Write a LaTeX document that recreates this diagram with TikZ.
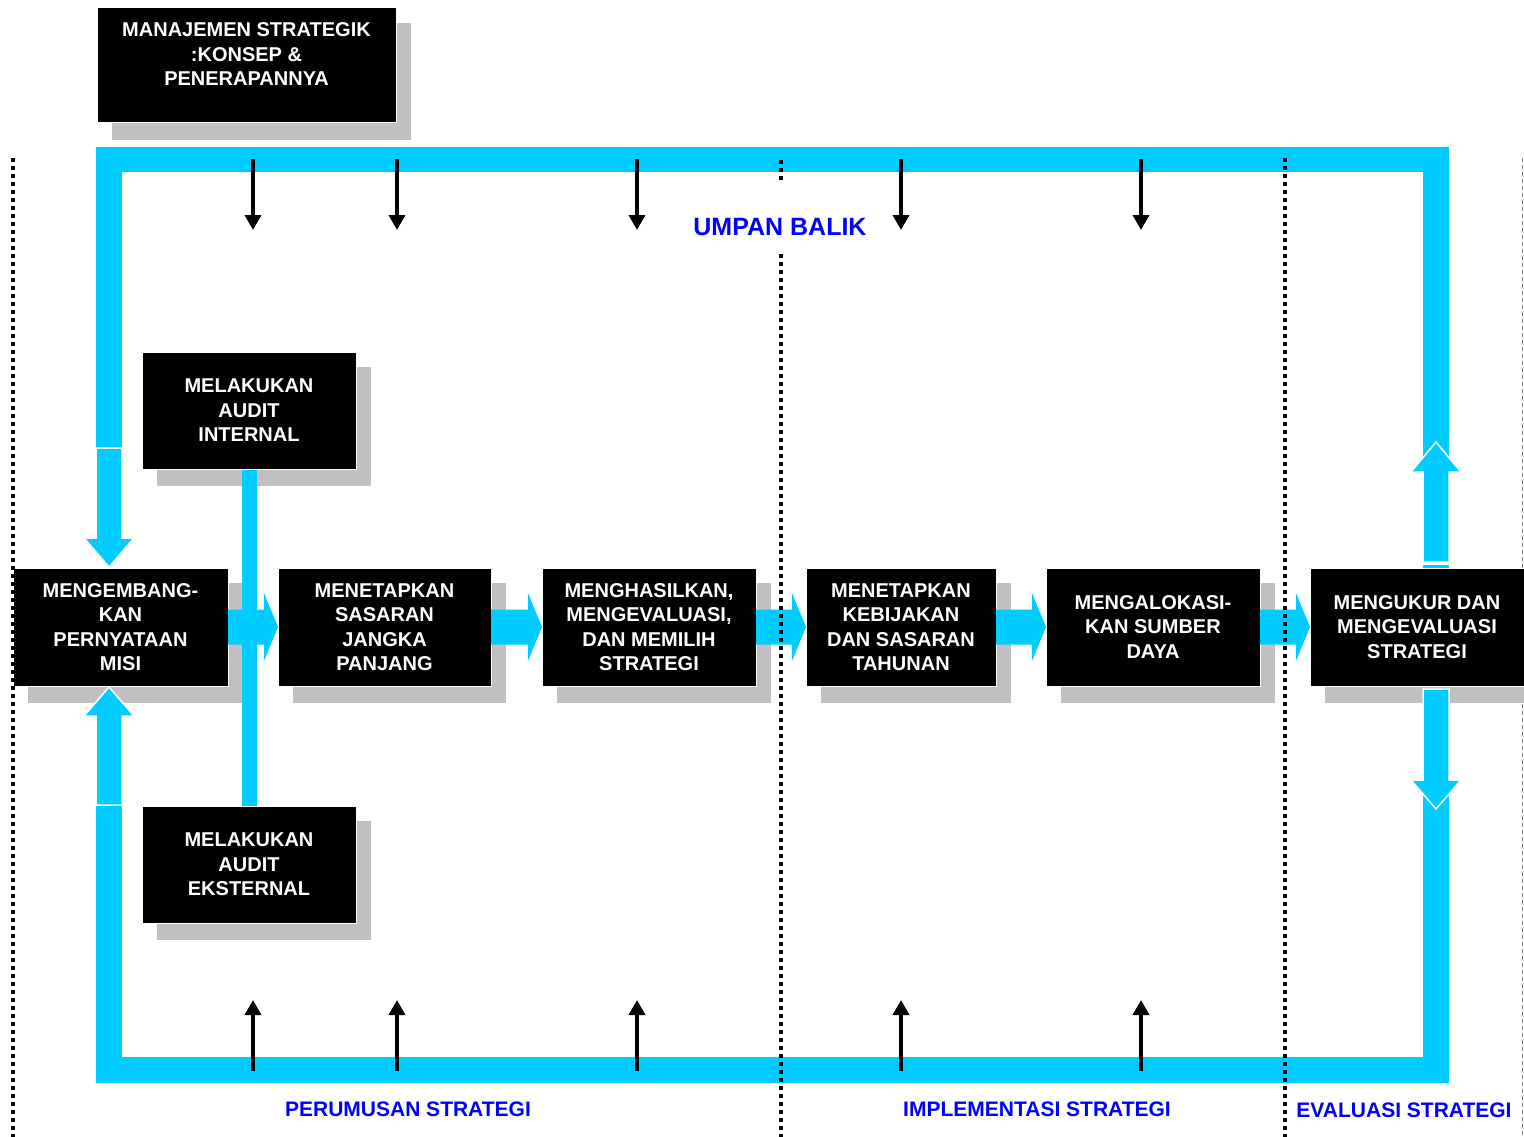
\documentclass[tikz,border=0pt]{standalone}
\usepackage{fontspec}
\setmainfont{Liberation Sans}
\usetikzlibrary{calc,arrows.meta}
\definecolor{cyanc}{HTML}{00CCFF}
\definecolor{shadowc}{HTML}{C0C0C0}
\definecolor{bluec}{HTML}{0000FF}
\definecolor{dashc}{HTML}{808080}
\pgfdeclarelayer{bgl}
\pgfdeclarelayer{shadowl}
\pgfdeclarelayer{framel}
\pgfsetlayers{bgl,shadowl,framel,main}
\newcommand\blockarr[2]{%
  \fill[cyanc] ($(#1.east)+(0,-17.5)$) -- ($(#2.west|-#1.east)+(-14,-17.5)$)
    -- ($(#2.west|-#1.east)+(-14,-34)$) -- (#2.west|-#1.east)
    -- ($(#2.west|-#1.east)+(-14,34)$) -- ($(#2.west|-#1.east)+(-14,17.5)$)
    -- ($(#1.east)+(0,17.5)$) -- cycle;}
\begin{document}
\begin{tikzpicture}[x=1pt,y=-1pt,
  box/.style={draw=white, line width=1pt, fill=black, text=white,
    font=\bfseries\fontsize{20}{24.5}\selectfont, align=center,
    inner sep=0pt, outer sep=0pt, minimum height=118pt},
  lbl/.style={text=bluec, font=\bfseries\fontsize{21}{25}\selectfont, inner sep=1pt},
  framearrow/.style={fill=cyanc, draw=white, line width=1.5pt},
  dotline/.style={black, line width=4pt, dash pattern=on 4pt off 4pt},
  thinarrow/.style={black, line width=3.5pt, -{Triangle[width=16pt,length=15pt]}}]
\useasboundingbox (0,0) rectangle (1524,1137);
\begin{pgfonlayer}{bgl}
  \fill[white] (0,0) rectangle (1524,1137);
\end{pgfonlayer}

% boxes
\node[box, minimum width=299pt, minimum height=115pt] (title) at (246.5,65.5)
  {\begin{minipage}[c][115pt][t]{299pt}\centering\vspace*{15pt}MANAJEMEN STRATEGIK\\:KONSEP \&\\PENERAPANNYA\end{minipage}};
\node[box, minimum width=215pt] (m1) at (120.5,627) {MENGEMBANG-\\KAN\\PERNYATAAN\\MISI};
\node[box, minimum width=213pt] (m2) at (384.5,627) {MENETAPKAN\\SASARAN\\JANGKA\\PANJANG};
\node[box, minimum width=214pt] (m3) at (649,627) {MENGHASILKAN,\\MENGEVALUASI,\\DAN MEMILIH\\STRATEGI};
\node[box, minimum width=190pt] (m4) at (901,627) {MENETAPKAN\\KEBIJAKAN\\DAN SASARAN\\TAHUNAN};
\node[box, minimum width=214pt] (m5) at (1153,627) {MENGALOKASI-\\KAN SUMBER\\DAYA};
\node[box, minimum width=214pt] (m6) at (1417,627) {MENGUKUR DAN\\MENGEVALUASI\\STRATEGI};
\node[box, minimum width=214pt, minimum height=117pt] (ai) at (249,410.5) {MELAKUKAN\\AUDIT\\INTERNAL};
\node[box, minimum width=214pt, minimum height=117pt] (ae) at (249,864.5) {MELAKUKAN\\AUDIT\\EKSTERNAL};

% shadows and background line
\begin{pgfonlayer}{shadowl}
  \draw[dashc, line width=1pt, dash pattern=on 4pt off 3pt] (1522.5,158) -- (1522.5,1137);
  \foreach \n in {title,m1,m2,m3,m4,m5,m6,ai,ae}
    \fill[shadowc] ($(\n.south west)+(15,17)$) rectangle ($(\n.north east)+(15,15)$);
\end{pgfonlayer}

% cyan feedback frame
\begin{pgfonlayer}{framel}
  \fill[cyanc] (96,147) rectangle (1449,172);
  \fill[cyanc] (96,1057) rectangle (1449,1083);
  \fill[cyanc] (96,147) rectangle (122,448);
  \fill[cyanc] (96,805) rectangle (122,1083);
  \fill[cyanc] (1423,147) rectangle (1449,460);
  \fill[cyanc] (1423,795) rectangle (1449,1083);
  \path[framearrow] (96,448) -- (122,448) -- (122,538) -- (134,538) -- (109,567) -- (84,538) -- (96,538) -- cycle;
  \path[framearrow] (96,805) -- (122,805) -- (122,716) -- (134,716) -- (109,687) -- (84,716) -- (96,716) -- cycle;
  \path[framearrow] (1423,562) -- (1449,562) -- (1449,472) -- (1461,472) -- (1436,442) -- (1411,472) -- (1423,472) -- cycle;
  \fill[cyanc] (1423,564.5) rectangle (1449,567.5);
  \path[framearrow] (1423,689) -- (1449,689) -- (1449,780) -- (1461,780) -- (1436,809) -- (1411,780) -- (1423,780) -- cycle;
  \fill[cyanc] ($(ai.south)+(-7,0)$) rectangle ($(ae.north)+(8,0)$);
\end{pgfonlayer}

% block arrows between stages
\blockarr{m1}{m2}
\blockarr{m2}{m3}
\blockarr{m3}{m4}
\blockarr{m4}{m5}
\blockarr{m5}{m6}

% dotted phase separators
\draw[dotline] (13,158) -- (13,1137);
\draw[dotline] (781,160) -- (781,182);
\draw[dotline] (781,254) -- (781,1137);
\draw[dotline] (1285,158) -- (1285,1137);

% thin feedback arrows
\foreach \i/\xx in {1/253,2/397,3/637,4/901,5/1141}{
  \coordinate (ts\i) at (\xx,159);
  \coordinate (te\i) at (\xx,230);
  \coordinate (bs\i) at (\xx,1071);
  \coordinate (be\i) at (\xx,1000);
  \draw[thinarrow] (ts\i) -- (te\i);
  \draw[thinarrow] (bs\i) -- (be\i);
}

% labels
\node[lbl, font=\bfseries\fontsize{25}{30}\selectfont] (ub) at (780,227) {UMPAN BALIK};
\node[lbl] (ps) at (408,1109) {PERUMUSAN STRATEGI};
\node[lbl] (is) at (1037,1109) {IMPLEMENTASI STRATEGI};
\node[lbl] (es) at (1404,1110) {EVALUASI STRATEGI};
\end{tikzpicture}
\end{document}
